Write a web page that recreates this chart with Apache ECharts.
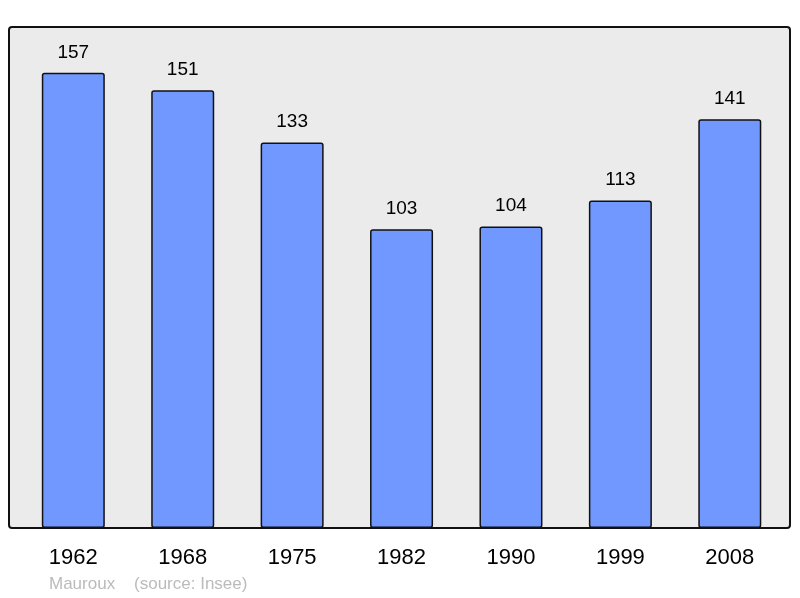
<!DOCTYPE html>
<html>
<head>
<meta charset="utf-8">
<script src="https://cdn.jsdelivr.net/npm/echarts@6/dist/echarts.min.js"></script>
<style>
  html, body { margin: 0; padding: 0; background: #fff; }
  #chart { width: 800px; height: 598px; }
</style>
</head>
<body>
<div id="chart"></div>
<script>
const YEARS = ["1962", "1968", "1975", "1982", "1990", "1999", "2008"];
const POPULATION = [157, 151, 133, 103, 104, 113, 141];
const FOOTER = "Mauroux    (source: Insee)";

const chart = echarts.init(document.getElementById("chart"));

chart.setOption({
  animation: false,
  textStyle: { fontFamily: "Liberation Sans" },
  graphic: [
    {
      type: "rect",
      z: -10,
      shape: { x: 9, y: 27, width: 781, height: 501, r: 3 },
      style: { fill: "#ebebeb", stroke: "#111", lineWidth: 2 },
    },
    {
      type: "text",
      left: 49,
      top: 576,
      style: { text: FOOTER, fill: "#bbbbbb", fontSize: 17, fontFamily: "Liberation Sans" },
    },
  ],
  grid: { left: 18.6, right: 15.5, top: 27, bottom: 70 },
  xAxis: {
    type: "category",
    data: YEARS,
    axisLine: { show: false },
    axisTick: { show: false },
    axisLabel: { color: "#000", fontSize: 22, margin: 19 },
  },
  yAxis: {
    type: "value",
    min: 0,
    max: 172.8,
    show: false,
    splitLine: { show: false },
  },
  series: [
    {
      type: "bar",
      data: POPULATION,
      barWidth: 63,
      itemStyle: {
        color: "#7098ff",
        borderColor: "#111",
        borderWidth: 1.5,
        borderRadius: 2,
      },
      label: {
        show: true,
        position: "top",
        distance: 11,
        color: "#000",
        fontSize: 19,
      },
    },
  ],
});
</script>
</body>
</html>
